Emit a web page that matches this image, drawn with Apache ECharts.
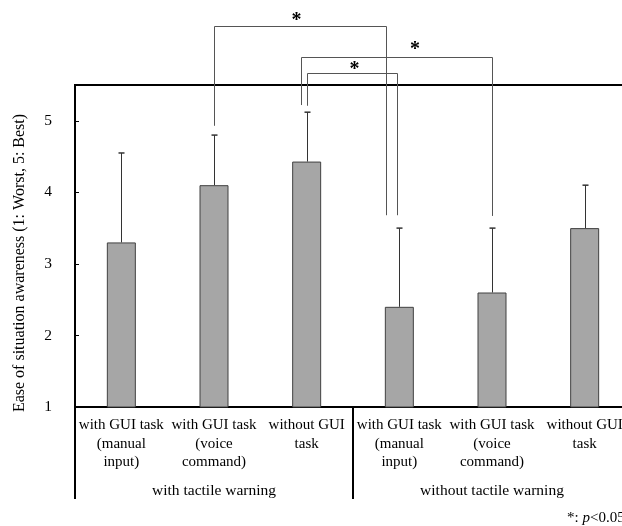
<!DOCTYPE html>
<html>
<head>
<meta charset="utf-8">
<style>
  html, body { margin: 0; padding: 0; background: #fff; }
  #chart { width: 622px; height: 526px; }
</style>
<script src="https://cdn.jsdelivr.net/npm/echarts@6/dist/echarts.min.js"></script>
</head>
<body>
<div id="chart"></div>
<script>
// Conditions on the category axis
const categories = [
  'with GUI task\n(manual\ninput)',
  'with GUI task\n(voice\ncommand)',
  'without GUI\ntask',
  'with GUI task\n(manual\ninput)',
  'with GUI task\n(voice\ncommand)',
  'without GUI\ntask'
];
const groups = ['with tactile warning', 'without tactile warning'];

// Mean score and standard deviation for each condition
const means = [3.3, 4.1, 4.43, 2.4, 2.6, 3.5];
const sds = [1.25, 0.7, 0.69, 1.1, 0.9, 0.6];

// Pairwise significant differences: [left condition, right condition]
const pairs = [[1, 3], [2, 4], [2, 3]];
// Bracket heights in score units: [bar top, left leg end, right leg end]
const bracketLevels = [
  [6.32, 4.93, 3.68],
  [5.89, 5.22, 3.67],
  [5.67, 5.21, 3.68]
];

const yTicks = [1, 2, 3, 4, 5];

// Pixel nudges so the brackets' legs and stars don't collide
const legShift = [[0, -13], [-6, 0], [0, -2]];
const starShift = [-4, 18, 2];
const starLift = [8, 10, 6];

const FONT = '"Liberation Serif", "Times New Roman", serif';

const chart = echarts.init(document.getElementById('chart'), null, { renderer: 'canvas' });

const errorData = means.map((m, i) => [i, m, sds[i]]);
const bracketData = pairs.map((p, i) => [p[0], p[1]].concat(bracketLevels[i]));

chart.setOption({
  animation: false,
  backgroundColor: '#fff',
  grid: {
    left: 75, top: 85, width: 556, bottom: 119,
    outerBoundsMode: 'none',
    containLabel: false,
    show: true, borderColor: '#000', borderWidth: 2, backgroundColor: 'transparent'
  },
  xAxis: [{
    type: 'category',
    data: categories,
    position: 'bottom',
    axisLine: { show: true, lineStyle: { color: '#000', width: 2 } },
    axisTick: {
      show: true,
      interval: (idx) => idx % 3 === 0,
      length: 92,
      lineStyle: { color: '#000', width: 2 }
    },
    axisLabel: {
      interval: 0, color: '#000', fontFamily: FONT, fontSize: 15,
      lineHeight: 18.5, margin: 9, hideOverlap: false
    }
  }, {
    type: 'category',
    data: groups,
    position: 'bottom',
    offset: 75,
    axisLine: { show: false },
    axisTick: { show: false },
    axisLabel: { color: '#000', fontFamily: FONT, fontSize: 15.5, margin: 0, lineHeight: 18 }
  }],
  yAxis: {
    type: 'value',
    min: 1, max: 5.5, interval: 1,
    axisLine: { show: true, lineStyle: { color: '#000', width: 2 } },
    axisTick: { show: true, inside: true, length: 4, lineStyle: { color: '#000', width: 1 } },
    splitLine: { show: false },
    axisLabel: {
      color: '#000', fontFamily: FONT, fontSize: 15.5, margin: 23,
      formatter: (v) => (yTicks.indexOf(v) >= 0 ? String(v) : '')
    }
  },
  graphic: [{
    type: 'text',
    x: 20, y: 263, rotation: Math.PI / 2,
    style: {
      text: 'Ease of situation awareness (1: Worst, 5: Best)',
      font: '16px ' + FONT, fill: '#000', align: 'center', verticalAlign: 'middle'
    }
  }, {
    type: 'text',
    x: 567, y: 518,
    style: {
      text: '*: {i|p}<0.05',
      font: '15px ' + FONT, fill: '#000', verticalAlign: 'middle',
      rich: { i: { fontStyle: 'italic', fontFamily: FONT, fontSize: 15 } }
    }
  }],
  series: [{
    type: 'bar',
    data: means,
    barWidth: 29,
    itemStyle: { color: '#a6a6a6', borderColor: '#404040', borderWidth: 1 },
    z: 2
  }, {
    type: 'custom',
    data: errorData,
    encode: { x: 0, y: 1 },
    z: 3,
    renderItem: function (params, api) {
      const i = api.value(0);
      const base = api.coord([i, api.value(1)]);
      const top = api.coord([i, api.value(1) + api.value(2)]);
      const st = { stroke: '#333', lineWidth: 1 };
      const x = Math.round(base[0]) + 0.5;
      return {
        type: 'group',
        children: [
          { type: 'line', shape: { x1: x, y1: base[1], x2: x, y2: top[1] }, style: st },
          { type: 'line', shape: { x1: x - 3, y1: top[1], x2: x + 3, y2: top[1] },
            style: { stroke: '#333', lineWidth: 1.5 } }
        ]
      };
    }
  }, {
    type: 'custom',
    data: bracketData,
    encode: { x: 0, y: 2 },
    clip: false,
    z: 4,
    renderItem: function (params, api) {
      const k = params.dataIndex;
      const a = api.value(0), b = api.value(1);
      const topY = api.coord([a, api.value(2)])[1];
      const lEnd = api.coord([a, api.value(3)])[1];
      const rEnd = api.coord([b, api.value(4)])[1];
      const xl = Math.round(api.coord([a, 0])[0] + legShift[k][0]) + 0.5;
      const xr = Math.round(api.coord([b, 0])[0] + legShift[k][1]) + 0.5;
      const ty = Math.round(topY) + 0.5;
      const st = { stroke: '#555', lineWidth: 1, fill: null };
      return {
        type: 'group',
        children: [
          { type: 'polyline', shape: { points: [[xl, lEnd], [xl, ty], [xr, ty], [xr, rEnd]] }, style: st },
          { type: 'text', x: (xl + xr) / 2 + starShift[k], y: ty - starLift[k] + 2,
            style: { text: '*', font: 'bold 20px ' + FONT, fill: '#000', align: 'center', verticalAlign: 'middle' } }
        ]
      };
    }
  }]
});
</script>
</body>
</html>
